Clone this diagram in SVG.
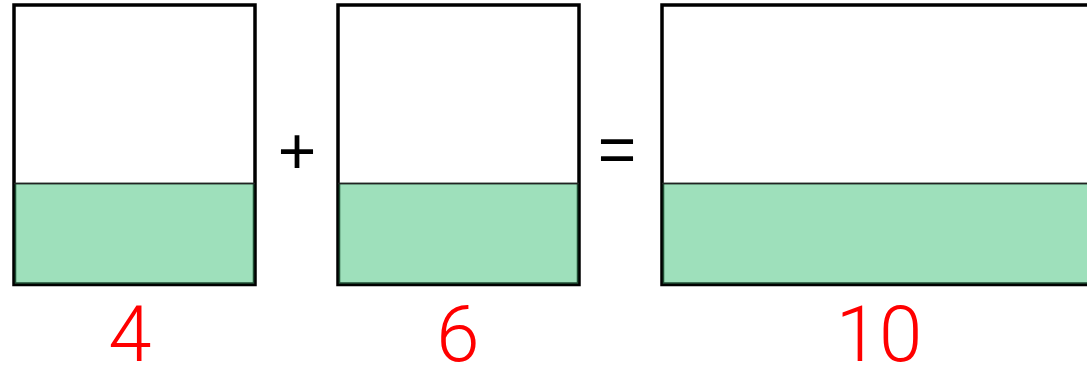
<svg xmlns="http://www.w3.org/2000/svg" width="1087" height="368" viewBox="0 0 1087 368">
<style>
.box{fill:#fff;stroke:#000;stroke-width:3.5}
.fill{fill:#9ee0bb;stroke:#1f4d33;stroke-width:1.5}
.cut{stroke:#222;stroke-width:1.5}
.num{font-family:Roboto,"Liberation Sans",Arial,sans-serif;font-weight:300;font-size:78px;fill:#ff0000;text-anchor:middle}
.op{font-family:"Liberation Sans",Arial,sans-serif;font-size:66px;fill:#000;text-anchor:middle}
</style>
<rect width="1087" height="368" fill="#fff"/>
<g id="box4">
<rect class="box" x="14" y="5" width="241" height="279.5"/>
<rect class="fill" x="15.5" y="183.5" width="238" height="99.5"/>
<line class="cut" x1="14" y1="183.5" x2="255" y2="183.5"/>
<text class="num" x="130" y="361">4</text>
</g>
<g id="plus"><text class="op" x="297" y="174">+</text></g>
<g id="box6">
<rect class="box" x="338" y="5" width="241" height="279.5"/>
<rect class="fill" x="339.5" y="183.5" width="238" height="99.5"/>
<line class="cut" x1="338" y1="183.5" x2="579" y2="183.5"/>
<text class="num" x="458" y="361">6</text>
</g>
<g id="equals"><text class="op" x="617" y="172">=</text></g>
<g id="box10">
<rect class="box" x="662" y="5" width="440" height="279.5"/>
<rect class="fill" x="663.5" y="183.5" width="430" height="99.5"/>
<line class="cut" x1="662" y1="183.5" x2="1090" y2="183.5"/>
<text class="num" x="879" y="361">10</text>
</g>
<g id="connectors"/>
</svg>
